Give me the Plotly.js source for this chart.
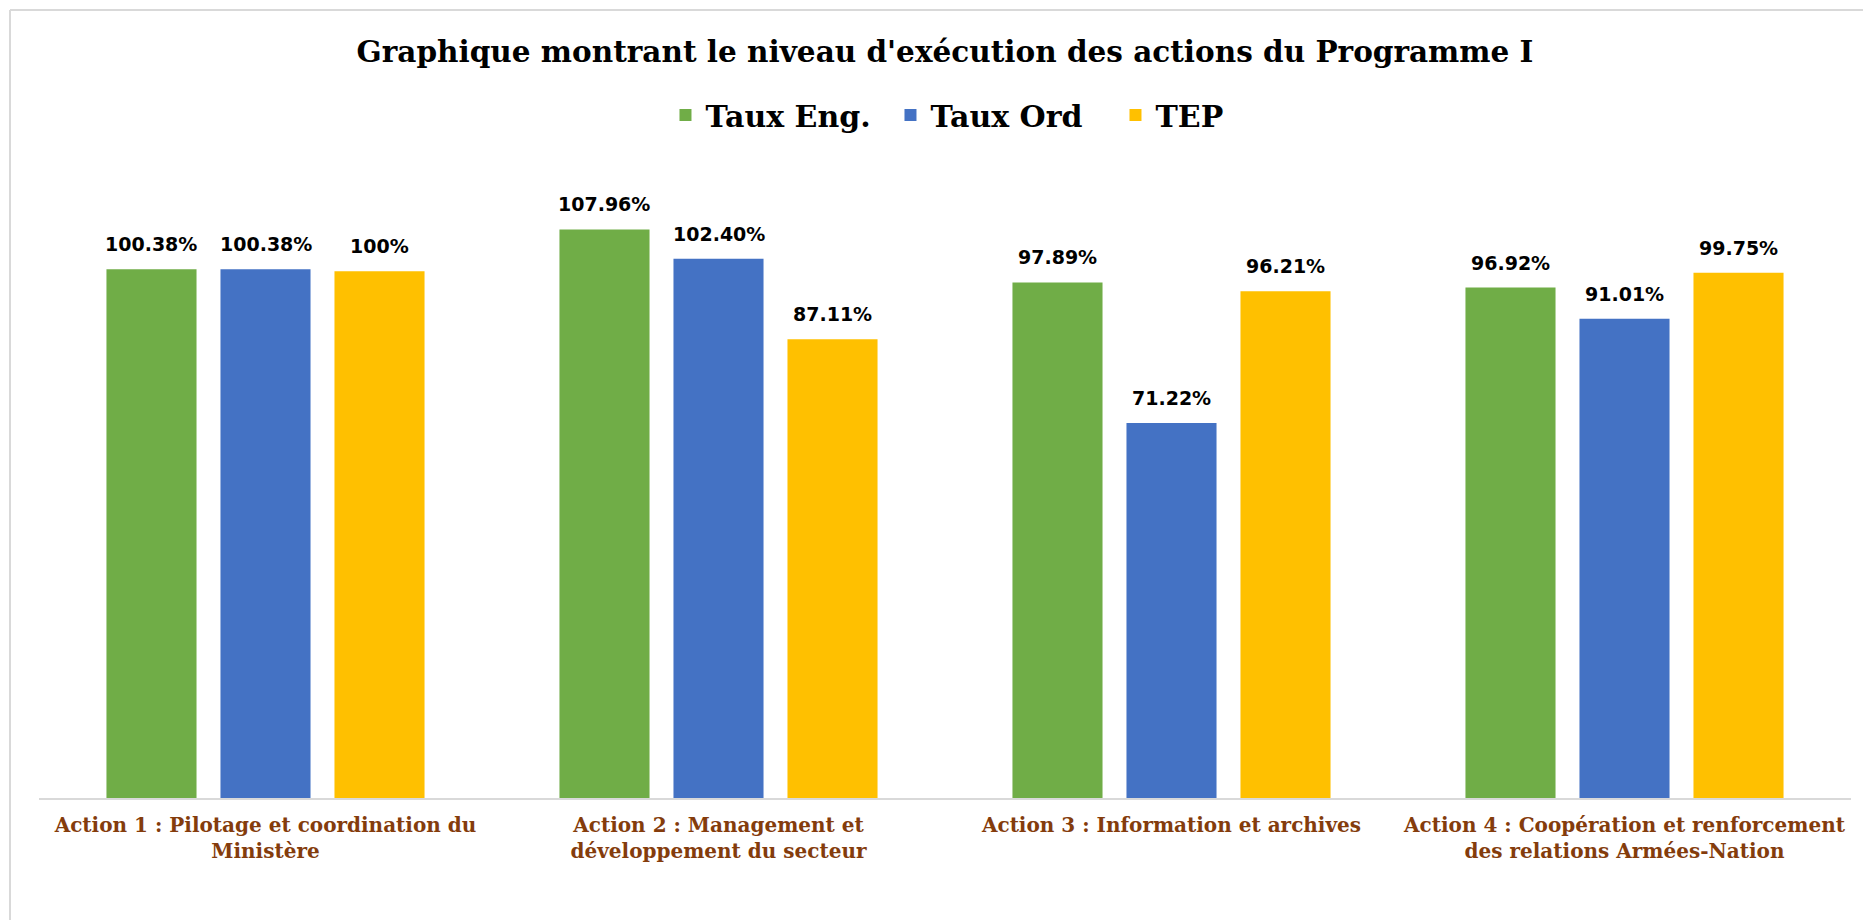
<!DOCTYPE html>
<html>
<head>
<meta charset="utf-8">
<script src="https://cdn.plot.ly/plotly-3.0.1.min.js"></script>
<style>
  html, body { margin: 0; padding: 0; background: #ffffff; }
  #chart { width: 1863px; height: 920px; }
</style>
</head>
<body>
<div id="chart"></div>
<script>
// ---- Data ----
const categories = [
  "Action 1 : Pilotage et coordination du<br>Ministère",
  "Action 2 : Management et<br>développement du secteur",
  "Action 3 : Information et archives",
  "Action 4 : Coopération et renforcement<br>des relations Armées-Nation"
];
const seriesNames = ["Taux Eng.", "Taux Ord", "TEP"];
const tauxEng = [100.38, 107.96, 97.89, 96.92];
const tauxOrd = [100.38, 102.40, 71.22, 91.01];
const tep     = [100, 87.11, 96.21, 99.75];
const seriesColors = ["#70AD47", "#4472C4", "#FFC000"];

// ---- Layout constants (pixels) ----
const W = 1863, H = 920;
const mL = 39, mR = 12, mT = 166, mB = 122;
const plotW = W - mL - mR, plotH = H - mT - mB;
const px2paperX = p => (p - mL) / plotW;
const px2paperY = p => (H - mB - p) / plotH;

const allSeries = [tauxEng, tauxOrd, tep];
const fmt = v => Number.isInteger(v) ? v + "%" : v.toFixed(2) + "%";

const traces = allSeries.map((vals, i) => ({
  type: "bar",
  name: seriesNames[i],
  x: categories,
  y: vals,
  marker: { color: seriesColors[i] },
  hoverinfo: "x+y+name"
}));

// data labels as annotations above each bar
const slotPx = (1 - 0.245) * (plotW / categories.length) / 3;
const annotations = [];
allSeries.forEach((vals, i) => {
  vals.forEach((v, j) => {
    annotations.push({
      x: categories[j], y: v, xref: "x", yref: "y",
      text: fmt(v), showarrow: false,
      xanchor: "center", yanchor: "bottom",
      xshift: (i - 1) * slotPx, yshift: 12,
      font: { family: "DejaVu Sans", size: 19, color: "#000000", weight: "bold" }
    });
  });
});

const layout = {
  width: W, height: H,
  margin: { l: mL, r: mR, t: mT, b: mB, pad: 0 },
  paper_bgcolor: "#ffffff",
  plot_bgcolor: "#ffffff",
  barmode: "group",
  bargap: 0.245,
  bargroupgap: 0.21,
  title: {
    text: "<b>Graphique montrant le niveau d'exécution des actions du Programme I</b>",
    font: { family: "DejaVu Serif", size: 29.5, color: "#000000" },
    x: 0.5, xref: "paper", xanchor: "center",
    y: 1 - 52 / H, yref: "container", yanchor: "middle"
  },
  showlegend: true,
  legend: {
    orientation: "h",
    x: 0.532, xanchor: "center",
    y: px2paperY(115), yanchor: "middle",
    font: { family: "DejaVu Serif", size: 30, color: "#000000", weight: "bold" },
    itemwidth: 30,
    entrywidth: 180,
    entrywidthmode: "pixels"
  },
  xaxis: {
    type: "category",
    showline: true, linecolor: "#d9d9d9", linewidth: 2,
    ticks: "", showgrid: false, zeroline: false,
    tickfont: { family: "DejaVu Serif", size: 20, color: "#843C0C", weight: "bold" },
    ticklabelstandoff: 8
  },
  yaxis: {
    range: [0, 120],
    visible: false, showgrid: false, zeroline: false, fixedrange: true
  },
  annotations: annotations,
  shapes: [
    { type: "line", xref: "paper", yref: "paper",
      x0: px2paperX(10), x1: px2paperX(10), y0: px2paperY(10), y1: px2paperY(H + 5),
      line: { color: "#d9d9d9", width: 2 } },
    { type: "line", xref: "paper", yref: "paper",
      x0: px2paperX(10), x1: px2paperX(W + 5), y0: px2paperY(10), y1: px2paperY(10),
      line: { color: "#d9d9d9", width: 2 } }
  ]
};

Plotly.newPlot("chart", traces, layout, { displayModeBar: false });
</script>
</body>
</html>
